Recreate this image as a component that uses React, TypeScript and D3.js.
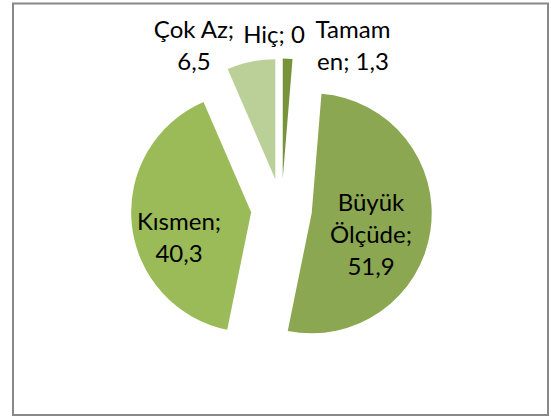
import React from "react";
import * as d3 from "d3";

// slices, clockwise from 12 o'clock (Excel order)
const categories = ["Tamamen", "Büyük Ölçüde", "Kısmen", "Çok Az", "Hiç"];
const values = [1.3, 51.9, 40.3, 6.5, 0];
const colors = ["#77933C", "#8BA751", "#9BBB59", "#BBD098", "#D7E4BD"];

// where Excel wrapped each label (character index) and where it put it
const labelBreaks = [[5], [5, 13], [7], [7], []];
const labelPos = [
  [353, 38],
  [371, 211],
  [179, 230],
  [194, 38],
  [274, 43],
];

const W = 551;
const H = 419;
const cx = 281.5;
const cy = 209;
const radius = 120;
const explode = 30.5;
const lineH = 32;

function splitLabel(text: string, breaks: number[]) {
  const out: string[] = [];
  let start = 0;
  breaks.forEach((b) => {
    out.push(text.slice(start, b).trim());
    start = b;
  });
  out.push(text.slice(start).trim());
  return out;
}

export default function App() {
  const data = categories.map((c, i) => ({ name: c, value: values[i], color: colors[i] }));
  const pie = d3.pie<any>().sort(null).value((d) => d.value);
  const arcs = pie(data);
  const arc = d3.arc<any>().innerRadius(0).outerRadius(radius);
  const fmt = (v: number) => d3.format(".1~f")(v).replace(".", ",");

  return (
    <svg width={W} height={H} style={{ position: "absolute", left: 0, top: 0 }}>
      <rect x={0} y={0} width={W} height={H} fill="#fff" />
      <rect x={13} y={3.5} width={535} height={411.5} fill="#fff" stroke="#888" strokeWidth={2} />
      {arcs.map((a, i) => {
        if (a.endAngle - a.startAngle <= 0) return null;
        const mid = (a.startAngle + a.endAngle) / 2;
        const ox = explode * Math.sin(mid);
        const oy = -explode * Math.cos(mid);
        return (
          <path
            key={i}
            d={arc(a) || ""}
            transform={`translate(${cx + ox},${cy + oy})`}
            fill={a.data.color}
          />
        );
      })}
      {data.map((d, i) => {
        const lines = splitLabel(`${d.name}; ${fmt(d.value)}`, labelBreaks[i]);
        const [x, y] = labelPos[i];
        return (
          <text
            key={i}
            x={x}
            y={y}
            textAnchor="middle"
            fontFamily="Lato, 'Noto Sans', sans-serif"
            fontSize={24}
            fill="#000"
          >
            {lines.map((l, j) => (
              <tspan key={j} x={x} y={y + j * lineH}>
                {l}
              </tspan>
            ))}
          </text>
        );
      })}
    </svg>
  );
}
